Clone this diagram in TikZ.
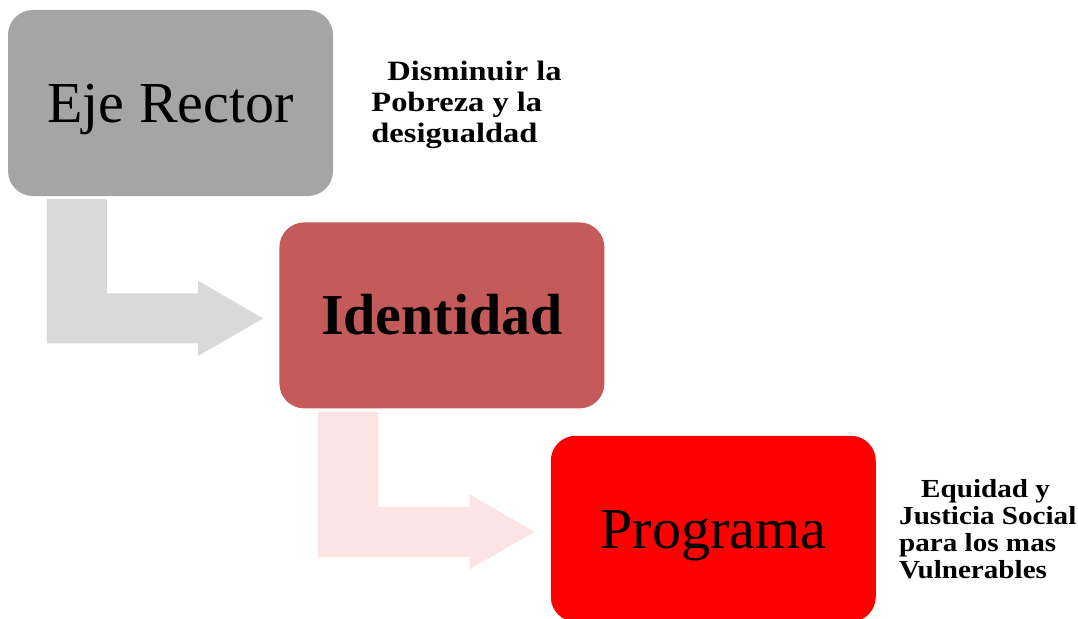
\documentclass[tikz,border=0pt]{standalone}
\usepackage{xcolor}
\usepackage{fontspec}
\setmainfont{Liberation Serif}
\newfontfamily\sideFont[FakeStretch=1.12]{Liberation Serif}
\newfontfamily\sideWideFont[FakeStretch=1.16]{Liberation Serif}
\usetikzlibrary{calc,positioning}
\definecolor{ejeGray}{RGB}{165,165,165}
\definecolor{identRed}{RGB}{197,90,90}
\definecolor{progRed}{RGB}{255,0,0}
\definecolor{arrowGray}{RGB}{217,217,217}
\definecolor{arrowPink}{RGB}{252,228,228}

\begin{document}
\begin{tikzpicture}[
    x=1pt, y=-1pt,
    box/.style={
      rounded corners=25pt,
      minimum width=325pt,
      minimum height=186pt,
      inner sep=0pt,
      text height=39pt,
      text depth=0pt,
      font=\fontsize{58}{60}\selectfont,
    },
    sideText/.style={
      align=left,
      inner sep=0pt,
      anchor=north west,
      font=\sideFont\bfseries\fontsize{26}{27}\selectfont,
    },
  ]
  \useasboundingbox (0,0) rectangle (1078,618);

  \node[box, fill=ejeGray] (eje) at (170.5,103) {Eje Rector};
  \node[box, fill=identRed, font=\fontsize{58}{60}\selectfont\bfseries,
    below right=26pt and -54pt of eje] (ident) {Identidad};
  \node[box, fill=progRed, below right=27pt and -54pt of ident] (prog) {Programa};

  \foreach \from/\to/\col in {eje/ident/arrowGray, ident/prog/arrowPink}
  {
    \coordinate (\from-top) at ($(\from.south west)+(39,3)$);
    \coordinate (\to-tip) at ($(\to.west)+(-16,3)$);
    \fill[\col] (\from-top) -- ++(60,0)
      -- ($(\from-top |- \to-tip)+(60,-25)$)
      -- ($(\to-tip)+(-65,-25)$) -- ($(\to-tip)+(-65,-37.5)$)
      -- (\to-tip)
      -- ($(\to-tip)+(-65,37.5)$) -- ($(\to-tip)+(-65,25)$)
      -- ($(\from-top |- \to-tip)+(0,25)$) -- cycle;
  }

  \node[sideText, font=\sideWideFont\bfseries\fontsize{28}{31}\selectfont] (meta)
    at ($(eje.north east)+(38,51)$)
    {\hspace*{16pt}Disminuir la\\Pobreza y la\\desigualdad};
  \node[sideText] (fin) at ($(prog.north east)+(23,44)$)
    {\hspace*{22pt}Equidad y\\Justicia Social\\para los mas\\Vulnerables};
\end{tikzpicture}
\end{document}
